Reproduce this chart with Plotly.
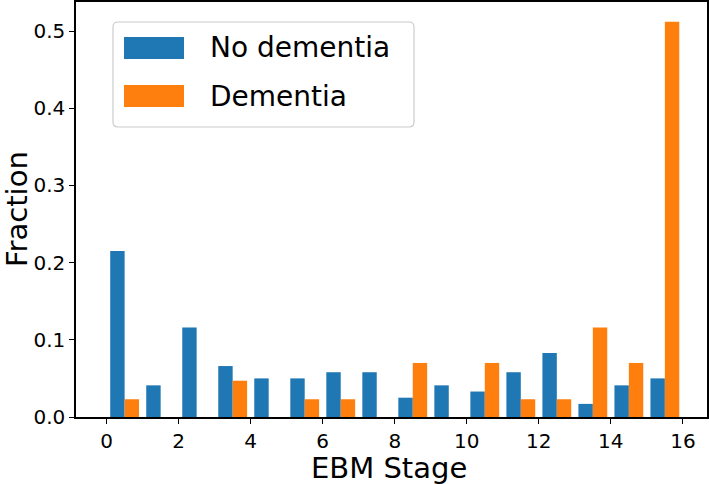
import plotly.graph_objects as go

stages = list(range(16))
no_dementia = [0.215, 0.041, 0.116, 0.066, 0.050, 0.050, 0.058, 0.058,
               0.025, 0.041, 0.033, 0.058, 0.083, 0.017, 0.041, 0.050]
dementia = [0.023, 0.0, 0.0, 0.047, 0.0, 0.023, 0.023, 0.0,
            0.070, 0.0, 0.070, 0.023, 0.023, 0.116, 0.070, 0.512]
x_ticks = list(range(0, 17, 2))
y_ticks = [0.0, 0.1, 0.2, 0.3, 0.4, 0.5]
series_names = ["No dementia", "Dementia"]
colors = ["#1f77b4", "#ff7f0e"]
x_title = "EBM Stage"
y_title = "Fraction"

FONT = "DejaVu Sans"
bin_centers = [s + 0.5 for s in stages]

fig = go.Figure()
for name, vals, col in zip(series_names, [no_dementia, dementia], colors):
    fig.add_trace(go.Bar(x=bin_centers, y=vals, name=name, marker_color=col,
                         marker_line_width=0, showlegend=False))

L, R, T, B = 76, 707, 2, 417
W, H = 709, 484

fig.update_layout(
    width=W, height=H,
    margin=dict(l=L, r=W - R, t=T, b=H - B, autoexpand=False),
    paper_bgcolor="white", plot_bgcolor="white",
    barmode="group", bargap=0.2, bargroupgap=0,
    font=dict(family=FONT, color="black"),
)
fig.update_xaxes(range=[-0.85, 16.67], tickvals=x_ticks, ticktext=[str(v) for v in x_ticks],
                 showline=True, linecolor="black", linewidth=1.5, mirror=True,
                 ticks="outside", ticklen=5, tickwidth=1.2, tickcolor="black",
                 showgrid=False, zeroline=False, tickfont=dict(size=20), automargin=False)
fig.update_yaxes(range=[0, 0.5376], tickvals=y_ticks, tickformat=".1f",
                 showline=True, linecolor="black", linewidth=1.5, mirror=True,
                 ticks="outside", ticklen=5, tickwidth=1.2, tickcolor="black",
                 showgrid=False, zeroline=False, tickfont=dict(size=20), automargin=False)

def fx(px):
    return (px - L) / (R - L)
def fy(py):
    return (B - py) / (B - T)

# axis titles
fig.add_annotation(xref="paper", yref="paper", x=fx(389), y=fy(468), text=x_title,
                   showarrow=False, xanchor="center", yanchor="middle", borderpad=0,
                   font=dict(size=29, family=FONT, color="black"))
fig.add_annotation(xref="paper", yref="paper", x=fx(17), y=fy(209), text=y_title,
                   showarrow=False, xanchor="center", yanchor="middle", textangle=-90,
                   borderpad=0, font=dict(size=29, family=FONT, color="black"))

# custom legend (matplotlib-like)
def rounded_path(x0, y0, x1, y1, r):
    rx, ry = r / (R - L), r / (B - T)
    X0, X1, Y0, Y1 = fx(x0), fx(x1), fy(y1), fy(y0)
    return (f"M {X0+rx},{Y0} L {X1-rx},{Y0} Q {X1},{Y0} {X1},{Y0+ry} "
            f"L {X1},{Y1-ry} Q {X1},{Y1} {X1-rx},{Y1} L {X0+rx},{Y1} "
            f"Q {X0},{Y1} {X0},{Y1-ry} L {X0},{Y0+ry} Q {X0},{Y0} {X0+rx},{Y0} Z")

fig.add_shape(type="path", xref="x domain", yref="y domain",
              path=rounded_path(113, 22, 414, 127, 5),
              line=dict(color="#cccccc", width=1.2), fillcolor="rgba(255,255,255,0.8)")
rows = [(37, 59), (85, 107)]
for (ya, yb), name, col in zip(rows, series_names, colors):
    fig.add_shape(type="rect", xref="x domain", yref="y domain",
                  x0=fx(124), x1=fx(184), y0=fy(yb), y1=fy(ya),
                  line=dict(width=0), fillcolor=col)
    fig.add_annotation(xref="x domain", yref="y domain", x=fx(208), y=fy((ya + yb) / 2),
                       text=name, showarrow=False, xanchor="left", yanchor="middle",
                       font=dict(size=28, family=FONT, color="black"))

fig.write_html("out.html", config={"displayModeBar": False},
               post_script="document.body.style.margin='0';document.body.style.overflow='hidden';")
